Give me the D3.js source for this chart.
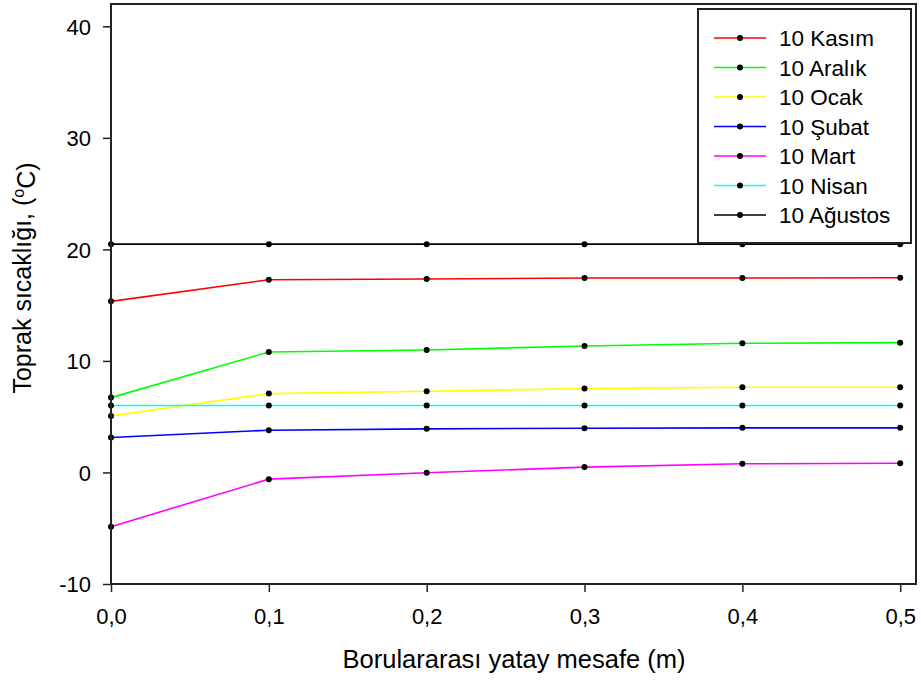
<!DOCTYPE html>
<html>
<head>
<meta charset="utf-8">
<script src="https://cdn.jsdelivr.net/npm/d3@7"></script>
<style>
  html, body { margin: 0; padding: 0; background: #fff; }
  svg { display: block; font-family: Arial, "Liberation Sans", sans-serif; }
</style>
</head>
<body>
<svg id="chart" width="921" height="685"></svg>
<script>
// Horizontal distance between pipes (m)
const distances = [0.0, 0.1, 0.2, 0.3, 0.4, 0.5];

// Soil temperature (°C) per measurement date
const kasim   = [15.34, 17.28, 17.34, 17.43, 17.43, 17.46];
const aralik  = [6.71, 10.80, 10.98, 11.34, 11.58, 11.64];
const ocak    = [5.07, 7.07, 7.28, 7.52, 7.64, 7.64];
const subat   = [3.13, 3.79, 3.91, 3.97, 4.00, 4.00];
const mart    = [-4.86, -0.60, -0.03, 0.48, 0.78, 0.83];
const nisan   = [6.00, 6.00, 6.00, 6.00, 6.00, 6.00];
const agustos = [20.47, 20.47, 20.47, 20.47, 20.47, 20.47];

const seriesNames  = ["10 Kasım", "10 Aralık", "10 Ocak", "10 Şubat", "10 Mart", "10 Nisan", "10 Ağustos"];
const seriesValues = [kasim, aralik, ocak, subat, mart, nisan, agustos];
const seriesColors = ["#ff0000", "#00ff00", "#ffff00", "#0000ff", "#ff00ff", "#00ffff", "#000000"];

const xTicks = [0, 0.1, 0.2, 0.3, 0.4, 0.5];
const yTicks = [-10, 0, 10, 20, 30, 40];

const svg = d3.select("#chart");
const plotLeft = 111, plotRight = 916, plotTop = 4, plotBottom = 584;

const x = d3.scaleLinear().domain([0, 0.51]).range([plotLeft, plotRight]);
const y = d3.scaleLinear().domain([-10, 42]).range([plotBottom, plotTop]);

const fmtX = d => d3.format(".1f")(d).replace(".", ",");
const fmtY = d => String(d); // plain hyphen for negatives

// Axes
const xAxis = svg.append("g")
  .attr("transform", `translate(0,${plotBottom})`)
  .call(d3.axisBottom(x).tickValues(xTicks).tickFormat(fmtX).tickSizeOuter(0).tickSizeInner(8).tickPadding(16));
const yAxis = svg.append("g")
  .attr("transform", `translate(${plotLeft},0)`)
  .call(d3.axisLeft(y).tickValues(yTicks).tickFormat(fmtY).tickSizeOuter(0).tickSizeInner(8).tickPadding(12));
[xAxis, yAxis].forEach(g => {
  g.select(".domain").remove();
  g.selectAll("line").attr("stroke", "#222").attr("stroke-width", 1.5);
  g.selectAll("text").attr("fill", "#000").style("font-size", "22px").style("font-family", "Arial, 'Liberation Sans', sans-serif");
});
xAxis.selectAll("text").attr("dy", "0.71em");
yAxis.selectAll("text").attr("dy", "0.36em");

// Series lines and markers
const line = d3.line().x((d, i) => x(distances[i])).y(d => y(d));
seriesValues.forEach((vals, k) => {
  svg.append("path")
    .attr("d", line(vals))
    .attr("fill", "none")
    .attr("stroke", seriesColors[k])
    .attr("stroke-width", 1.6);
  svg.append("g").selectAll("circle")
    .data(vals)
    .join("circle")
    .attr("cx", (d, i) => x(distances[i]))
    .attr("cy", d => y(d))
    .attr("r", 3)
    .attr("fill", "#000");
});

// Plot frame
svg.append("rect")
  .attr("x", plotLeft).attr("y", plotTop)
  .attr("width", plotRight - plotLeft).attr("height", plotBottom - plotTop)
  .attr("fill", "none").attr("stroke", "#222").attr("stroke-width", 2);

// Legend
const legend = svg.append("g");
legend.append("rect")
  .attr("x", 698).attr("y", 9).attr("width", 213).attr("height", 234)
  .attr("fill", "#fff").attr("stroke", "#222").attr("stroke-width", 2);
seriesNames.forEach((name, k) => {
  const ly = 38 + k * 29.5;
  legend.append("line")
    .attr("x1", 714).attr("x2", 766).attr("y1", ly).attr("y2", ly)
    .attr("stroke", seriesColors[k]).attr("stroke-width", 1.6);
  legend.append("circle").attr("cx", 740).attr("cy", ly).attr("r", 3).attr("fill", "#000");
  legend.append("text")
    .attr("x", 779).attr("y", ly).attr("dy", "0.36em")
    .style("font-size", "22.5px").attr("fill", "#000")
    .text(name);
});

// Axis titles
svg.append("text")
  .attr("x", 514).attr("y", 668)
  .attr("text-anchor", "middle")
  .style("font-size", "25.5px").attr("fill", "#000")
  .text("Borulararası yatay mesafe (m)");

const yTitle = svg.append("text")
  .attr("transform", "translate(31,278) rotate(-90)")
  .attr("text-anchor", "middle")
  .style("font-size", "25px").attr("fill", "#000");
yTitle.append("tspan").text("Toprak sıcaklığı, (");
yTitle.append("tspan").attr("dy", "-0.45em").style("font-size", "16px").text("o");
yTitle.append("tspan").attr("dy", "0.45em").text("C)");
</script>
</body>
</html>
